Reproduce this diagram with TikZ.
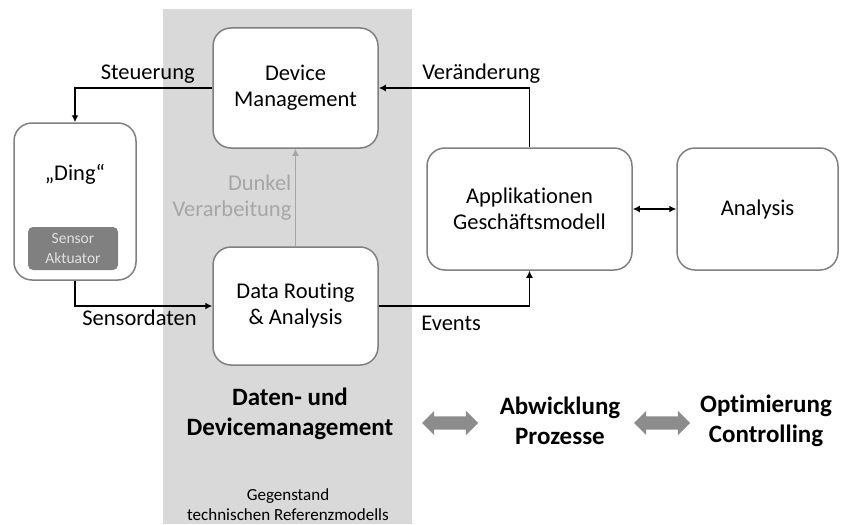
\documentclass[tikz,border=0pt]{standalone}
\usepackage{fontspec}
\setmainfont{Carlito}[Ligatures=NoCommon]
\usetikzlibrary{arrows.meta,shapes.arrows}
\definecolor{bandgray}{HTML}{D9D9D9}
\definecolor{boxgray}{HTML}{808080}
\definecolor{softgray}{HTML}{A6A6A6}
\definecolor{fatgray}{HTML}{8C8C8C}

\begin{document}
\begin{tikzpicture}[x=1pt, y=-1pt,
  box/.style={draw=boxgray, line width=1.5pt, rounded corners=18pt, fill=white,
    align=center, font=\fontsize{22.5}{26}\selectfont},
  wire/.style={line width=1.6pt, -{Latex[length=7pt,width=7pt]}},
  lab/.style={font=\fontsize{22.5}{26}\selectfont},
  head/.style={align=center, font=\fontsize{25}{30}\selectfont\bfseries},
  fatarrow/.style={double arrow, fill=fatgray, minimum height=56pt, minimum width=24pt,
    inner sep=6.5pt, double arrow head extend=5.5pt}]
  \useasboundingbox (0,0) rectangle (842,524);
  \fill[bandgray] (163,9) rectangle (412,524);

  \node[box, minimum width=122pt, minimum height=157pt] (ding) at (75,201.5) {„Ding“\\[32pt]};
  \node[fill=boxgray, rounded corners=5pt, minimum width=90pt, minimum height=43pt,
    text=white!88!black, align=center, font=\fontsize{15.5}{20}\selectfont] (sa) at (73,248.5) {Sensor\\Aktuator};
  \node[box, minimum width=165pt, minimum height=120pt] (dm) at (295.5,88) {Device\\Management};
  \node[box, minimum width=165pt, minimum height=118pt] (dr) at (295.5,306) {Data Routing\\\& Analysis};
  \node[box, minimum width=205pt, minimum height=122pt] (app) at (529.5,209) {Applikationen\\Geschäftsmodell};
  \node[box, minimum width=161pt, minimum height=122pt] (ana) at (757.5,209) {Analysis};

  \draw[wire] (dm.west) -| node[lab, pos=0.235, above] {Steuerung} (ding.north);
  \draw[wire] (ding.south) |- node[lab, pos=0.735, below] {Sensordaten} (dr.west);
  \draw[wire, draw=softgray] (dr.north) -- node[lab, left, align=right, text=softgray] {Dunkel\\Verarbeitung} (dm.south);
  \draw[wire] (dr.east) -| node[lab, pos=0.24, below=6pt] {Events} (app.south);
  \draw[wire] (app.north) |- node[lab, pos=0.66, above] {Veränderung} (dm.east);
  \draw[line width=1.6pt, {Latex[length=7pt,width=7pt]}-{Latex[length=7pt,width=7pt]}] (app) -- (ana);

  \node[head] (dd) at (290,414) {Daten- und\\Devicemanagement};
  \node[head] (ap) at (560,421) {Abwicklung\\Prozesse};
  \node[head] (oc) at (766,421) {Optimierung\\Controlling};
  \node[align=center, font=\fontsize{17}{20}\selectfont] (gg) at (288,505) {Gegenstand\\technischen Referenzmodells};
  \node[fatarrow] (f1) at (450,423) {};
  \node[fatarrow] (f2) at (662,423) {};
\end{tikzpicture}
\end{document}
